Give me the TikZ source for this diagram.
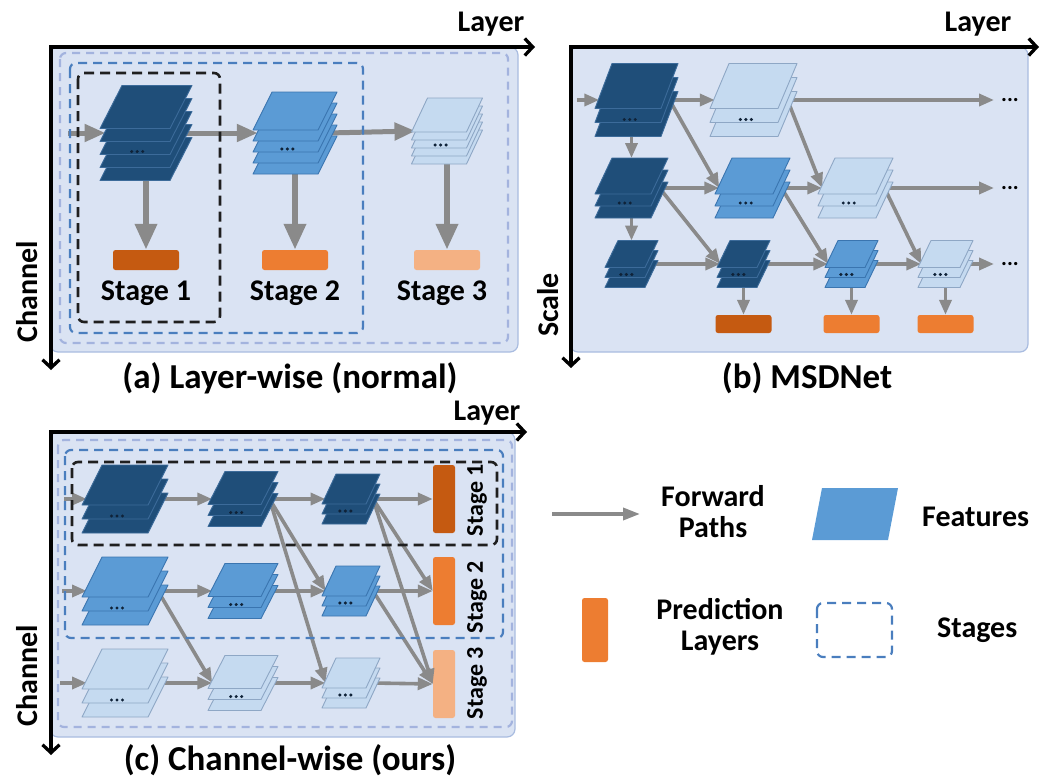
\documentclass[tikz,border=0pt]{standalone}
\usepackage{fontspec}
\setmainfont{Carlito}
\usetikzlibrary{arrows.meta,calc}

\definecolor{panelbg}{HTML}{DAE3F3}
\definecolor{panelrim}{HTML}{A9BCE0}
\definecolor{fdark}{HTML}{1F4E79}
\definecolor{fdarkrim}{HTML}{3C6B9A}
\definecolor{fmid}{HTML}{5B9BD5}
\definecolor{fmidrim}{HTML}{3A75B0}
\definecolor{flight}{HTML}{C5DAF0}
\definecolor{flightrim}{HTML}{8EA7C5}
\definecolor{pdark}{HTML}{C55A11}
\definecolor{pmid}{HTML}{ED7D31}
\definecolor{plight}{HTML}{F4B183}
\definecolor{pathgray}{HTML}{8A8A8A}
\definecolor{stageblue}{HTML}{4A7EBE}
\definecolor{stagelav}{HTML}{A3B3DE}
\definecolor{dotink}{HTML}{0F2238}

\tikzset{
  platedk/.style={fill=fdark, draw=fdarkrim, line width=0.9pt, line join=round},
  platemd/.style={fill=fmid, draw=fmidrim, line width=0.9pt, line join=round},
  platelt/.style={fill=flight, draw=flightrim, line width=0.9pt, line join=round},
  panelbox/.style={fill=panelbg, draw=panelrim, line width=1.2pt, rounded corners=8pt},
  axisline/.style={draw=black, line width=3.3pt, {Straight Barb[length=8pt,width=17pt]}-{Straight Barb[length=8pt,width=17pt]}},
  fwdA/.style={draw=pathgray, line width=5pt, -{Triangle[length=21pt,width=17pt]}},
  fwdAv/.style={draw=pathgray, line width=6.5pt, -{Triangle[length=26pt,width=21pt]}},
  fwd/.style={draw=pathgray, line width=3.6pt, -{Triangle[length=15pt,width=12pt]}},
  fwdleg/.style={draw=pathgray, line width=3.5pt, -{Triangle[length=17pt,width=12pt]}},
  dashblack/.style={draw=black!88, line width=2.6pt, dash pattern=on 10pt off 6pt, rounded corners=6pt},
  dashblue/.style={draw=stageblue, line width=2.2pt, dash pattern=on 9pt off 6pt, rounded corners=6pt},
  dashlav/.style={draw=stagelav, line width=2.2pt, dash pattern=on 8pt off 6pt, rounded corners=6pt},
  predbar/.style={rounded corners=2.5pt, inner sep=0pt, draw=none},
  lbl/.style={font=\bfseries\fontsize{30}{31}\selectfont, inner sep=0pt, text=black},
  captxt/.style={font=\bfseries\fontsize{35}{37}\selectfont, inner sep=0pt, text=black, anchor=base},
  stgtxt/.style={font=\bfseries\fontsize{24}{25}\selectfont, inner sep=0pt, text=black, rotate=90},
  elltxt/.style={font=\bfseries\fontsize{22}{22}\selectfont, inner sep=0pt, text=black, anchor=west},
}

% geometry of a stack of feature maps:
% #1 centre x, #2 centre y, #3 plate width, #4 skew, #5 plate height, #6 plates, #7 spacing
\newcommand\fsgeom[7]{%
  \pgfmathsetmacro\fsH{#5+(#6-1)*#7}%
  \pgfmathsetmacro\fsX{#1-(#3+#4)/2}%
  \pgfmathsetmacro\fsY{#2-\fsH/2}%
}
% anchor points of a stack: name, then the seven geometry values
\newcommand\stackpoints[8]{%
  \fsgeom{#2}{#3}{#4}{#5}{#6}{#7}{#8}%
  \coordinate (#1-w) at ({\fsX+0.25*#5},#3);
  \coordinate (#1-e) at ({\fsX+#4+0.5*#5},#3);
  \coordinate (#1-n) at (#2,\fsY);
  \coordinate (#1-s) at (#2,{\fsY+\fsH});
}
% plates of a stack: style, then the seven geometry values
\newcommand\stackplates[8]{%
  \fsgeom{#2}{#3}{#4}{#5}{#6}{#7}{#8}%
  \pgfmathtruncatemacro\fsN{#7-1}%
  \foreach \pp in {\fsN,...,0}{%
    \pgfmathsetmacro\fsT{\fsY+\pp*#8}%
    \pgfmathsetmacro\fsB{\fsT+#6}%
    \draw[#1] (\fsX,\fsB) -- ++(#4,0) -- ({\fsX+#4+#5},\fsT) -- ({\fsX+#5},\fsT) -- cycle;
  }%
  \pgfmathsetmacro\fsDx{\fsX+#4/2+#5*0.1}%
  \pgfmathsetmacro\fsDy{\fsY+#6+(#7-1)*#8/2-3}%
  \pgfmathsetmacro\fsDl{\fsDx-5.5}%
  \pgfmathsetmacro\fsDr{\fsDx+5.5}%
  \fill[dotink] (\fsDl,\fsDy) circle (1.7) (\fsDx,\fsDy) circle (1.7) (\fsDr,\fsDy) circle (1.7);
}

\begin{document}
\begin{tikzpicture}[x=1pt,y=-1pt]
\useasboundingbox (0,0) rectangle (1042,779);

% ---------- panel backgrounds ----------
\path[panelbox] (50,47) rectangle (518,352);
\path[panelbox] (570,47) rectangle (1028,352);
\path[panelbox] (50,432) rectangle (515,737);

% ---------- anchor points of all stacks ----------
\foreach \nm/\cx/\cy/\ww/\sk/\hh/\nn/\dd in {
  aS1/146/133/70/22/43/5/13, aS2/295/133/65/19/38/5/11, aS3/447/131/55/16/34/5/8,
  bA1/636.5/100/66/17/45/3/14, bB1/753.5/100/68/19/45/3/14,
  bA2/631.5/188/56/17/36/3/12, bB2/752.5/188/58/17/36/3/12, bC2/855.5/188/58/17/36/3/12,
  bA3/631.5/264/40/13/27/3/10, bB3/743.5/264/40/13/27/3/10, bC3/851.5/264/40/13/27/3/10, bD3/945.5/264/42/13/27/3/10,
  cS11/125/499/66/20/40/3/14, cS12/243/499/53/17/33/3/11, cS13/351/499/44/14/30/3/10,
  cS21/125/591/66/20/40/3/14, cS22/243/591/53/17/33/3/11, cS23/351/591/44/14/30/3/10,
  cS31/125/683/66/20/40/3/14, cS32/243/683/53/17/33/3/11, cS33/351/683/44/14/30/3/10}
  {\stackpoints{\nm}{\cx}{\cy}{\ww}{\sk}{\hh}{\nn}{\dd}}

% ---------- prediction layers ----------
\node[predbar, fill=pdark, minimum width=66pt, minimum height=20pt] (abar1) at (146,260) {};
\node[predbar, fill=pmid, minimum width=66pt, minimum height=20pt] (abar2) at (295,260) {};
\node[predbar, fill=plight, minimum width=66pt, minimum height=20pt] (abar3) at (447,260) {};
\node[predbar, fill=pdark, minimum width=56pt, minimum height=18pt] (bpb1) at (743.5,324) {};
\node[predbar, fill=pmid, minimum width=56pt, minimum height=18pt] (bpb2) at (851.5,324) {};
\node[predbar, fill=pmid, minimum width=56pt, minimum height=18pt] (bpb3) at (945.5,324) {};
\node[predbar, fill=pdark, minimum width=22pt, minimum height=68pt] (cb1) at (444,499) {};
\node[predbar, fill=pmid, minimum width=22pt, minimum height=68pt] (cb2) at (444,591) {};
\node[predbar, fill=plight, minimum width=22pt, minimum height=68pt] (cb3) at (444,684) {};

\node[elltxt] (bd1) at (1001,100) {...};
\node[elltxt] (bd2) at (1001,188) {...};
\node[elltxt] (bd3) at (1001,264) {...};

% ---------- forward paths ----------
\coordinate (ain) at (68,133);
\draw[fwdA] (ain) -- (aS1-w);
\draw[fwdA] (aS1-e) -- (aS2-w);
\draw[fwdA] (aS2-e) -- (aS3-w);
\draw[fwdAv] (aS1-s) -- (abar1.north);
\draw[fwdAv] (aS2-s) -- (abar2.north);
\draw[fwdAv] (aS3-s) -- (abar3.north);

\coordinate (bin) at (577,100);
\draw[fwd] (bin) -- (bA1-w);
\draw[fwd] (bA1-e) -- (bB1-w);
\draw[fwd] (bB1-e) -- ([xshift=-7pt]bd1.west);
\draw[fwd] (bA2-n |- bA1-s) -- (bA2-n);
\draw[fwd] (bA2-s) -- (bA3-n);
\draw[fwd] (bA1-e) -- (bB2-w);
\draw[fwd] (bA2-e) -- (bB2-w);
\draw[fwd] (bA2-e) -- (bB3-w);
\draw[fwd] (bA3-e) -- (bB3-w);
\draw[fwd] (bB1-e) -- (bC2-w);
\draw[fwd] (bB2-e) -- (bC2-w);
\draw[fwd] (bB2-e) -- (bC3-w);
\draw[fwd] (bB3-e) -- (bC3-w);
\draw[fwd] (bC2-e) -- ([xshift=-7pt]bd2.west);
\draw[fwd] (bC2-e) -- (bD3-w);
\draw[fwd] (bC3-e) -- (bD3-w);
\draw[fwd] (bD3-e) -- ([xshift=-7pt]bd3.west);
\draw[fwd] (bB3-s) -- (bpb1.north);
\draw[fwd] (bC3-s) -- (bpb2.north);
\draw[fwd] (bD3-s) -- (bpb3.north);

\coordinate (cin1) at (64,499);
\coordinate (cin2) at (62,591);
\coordinate (cin3) at (60,683);
\draw[fwd] (cin1) -- (cS11-w);
\draw[fwd] (cS11-e) -- (cS12-w);
\draw[fwd] (cS12-e) -- (cS13-w);
\draw[fwd] (cS13-e) -- (cb1.west);
\draw[fwd] (cin2) -- (cS21-w);
\draw[fwd] (cS21-e) -- (cS22-w);
\draw[fwd] (cS22-e) -- (cS23-w);
\draw[fwd] (cS23-e) -- (cb2.west);
\draw[fwd] (cin3) -- (cS31-w);
\draw[fwd] (cS31-e) -- (cS32-w);
\draw[fwd] (cS32-e) -- (cS33-w);
\draw[fwd] (cS33-e) -- (cb3.west);
\draw[fwd] (cS12-e) -- (cS23-w);
\draw[fwd] (cS12-e) -- (cS33-w);
\draw[fwd] (cS13-e) -- (cb2.west);
\draw[fwd] (cS13-e) -- (cb3.west);
\draw[fwd] (cS21-e) -- (cS32-w);
\draw[fwd] (cS23-e) -- (cb3.west);

% ---------- stage boxes ----------
\draw[dashlav] (60,53) rectangle (508,343);
\draw[dashblue] (70,63) rectangle (363,333);
\draw[dashblack] (78,73) rectangle (220,322);
\draw[dashlav] (58,440) rectangle (512,727);
\draw[dashblue] (65,450) rectangle (503,638);
\draw[dashblack] (72,462) rectangle (497,545);

% ---------- feature stacks ----------
\foreach \st/\cx/\cy/\ww/\sk/\hh/\nn/\dd in {
  platedk/146/133/70/22/43/5/13, platemd/295/133/65/19/38/5/11, platelt/447/131/55/16/34/5/8,
  platedk/636.5/100/66/17/45/3/14, platelt/753.5/100/68/19/45/3/14,
  platedk/631.5/188/56/17/36/3/12, platemd/752.5/188/58/17/36/3/12, platelt/855.5/188/58/17/36/3/12,
  platedk/631.5/264/40/13/27/3/10, platedk/743.5/264/40/13/27/3/10, platemd/851.5/264/40/13/27/3/10, platelt/945.5/264/42/13/27/3/10,
  platedk/125/499/66/20/40/3/14, platedk/243/499/53/17/33/3/11, platedk/351/499/44/14/30/3/10,
  platemd/125/591/66/20/40/3/14, platemd/243/591/53/17/33/3/11, platemd/351/591/44/14/30/3/10,
  platelt/125/683/66/20/40/3/14, platelt/243/683/53/17/33/3/11, platelt/351/683/44/14/30/3/10}
  {\stackplates{\st}{\cx}{\cy}{\ww}{\sk}{\hh}{\nn}{\dd}}

% ---------- labels ----------
\node[lbl] (aSt1) at (146,293) {Stage 1};
\node[lbl] (aSt2) at (295,293) {Stage 2};
\node[lbl] (aSt3) at (442,293) {Stage 3};
\node[stgtxt] (cSt1) at (477,500) {Stage 1};
\node[stgtxt] (cSt2) at (477,597) {Stage 2};
\node[stgtxt] (cSt3) at (477,683) {Stage 3};

% ---------- axes ----------
\coordinate (aO) at (51,47);
\coordinate (aX) at (535,47);
\coordinate (aY) at (51,370);
\draw[axisline] (aX) -- (aO) -- (aY);
\node[lbl] (aLayer) at (491,24) {Layer};
\node[lbl, rotate=90] (aChannel) at (27,292) {Channel};
\node[captxt] (aCap) at (290,388) {(a) Layer-wise (normal)};

\coordinate (bO) at (571,47);
\coordinate (bX) at (1039,47);
\coordinate (bY) at (571,368);
\draw[axisline] (bX) -- (bO) -- (bY);
\node[lbl] (bLayer) at (978,24) {Layer};
\node[lbl, rotate=90] (bScale) at (548,305) {Scale};
\node[captxt] (bCap) at (807,388) {(b) MSDNet};

\coordinate (cO) at (51,432);
\coordinate (cX) at (527,432);
\coordinate (cY) at (51,755);
\draw[axisline] (cX) -- (cO) -- (cY);
\node[lbl] (cLayer) at (487,413) {Layer};
\node[lbl, rotate=90] (cChannel) at (27,676) {Channel};
\node[captxt] (cCap) at (290,770) {(c) Channel-wise (ours)};

% ---------- legend ----------
\coordinate (lgA) at (552,514);
\coordinate (lgB) at (640,514);
\draw[fwdleg] (lgA) -- (lgB);
\node[lbl, align=center] (lgFwd) at (713,512) {Forward\\Paths};
\fill[fmid] (812,540) -- (888,540) -- (898,488) -- (822,488) -- cycle;
\node[lbl, anchor=west] (lgFeat) at (922,517) {Features};
\node[predbar, fill=pmid, minimum width=26pt, minimum height=64pt] (lgBar) at (595,630) {};
\node[lbl, align=center] (lgPred) at (720,627) {Prediction\\Layers};
\draw[dashblue] (817,603) rectangle (892,657);
\node[lbl, anchor=west] (lgStage) at (937,630) {Stages};
\end{tikzpicture}
\end{document}
